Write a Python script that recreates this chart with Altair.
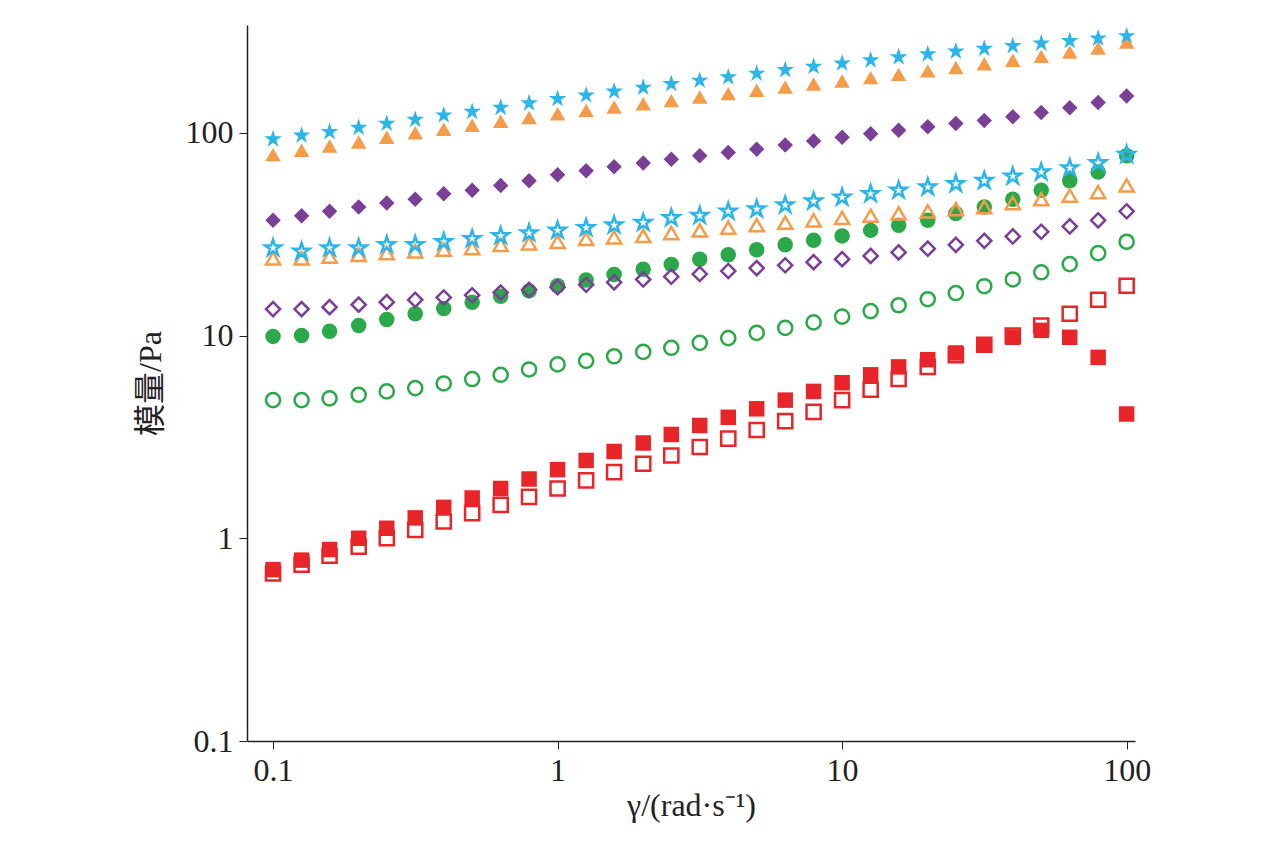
import altair as alt
import pandas as pd

x = [0.1, 0.126, 0.158, 0.2, 0.251, 0.316, 0.398, 0.501, 0.631, 0.794,
     1, 1.26, 1.58, 2, 2.51, 3.16, 3.98, 5.01, 6.31, 7.94,
     10, 12.6, 15.8, 20, 25.1, 31.6, 39.8, 50.1, 63.1, 79.4, 100]

filled = {
    "0": [0.7, 0.78, 0.88, 1.0, 1.12, 1.26, 1.42, 1.58, 1.76, 1.96, 2.18, 2.42, 2.68, 2.95, 3.25, 3.6,
          3.95, 4.35, 4.8, 5.3, 5.85, 6.4, 7.0, 7.6, 8.2, 9.0, 9.8, 10.6, 9.8, 7.8, 4.1],
    "0.15": [9.9, 10, 10.5, 11.2, 12, 12.8, 13.6, 14.6, 15.6, 16.6, 17.6, 18.8, 20, 21.2, 22.4, 23.8,
             25, 26.5, 28, 29.5, 31, 33, 35, 37, 40, 43, 47, 52, 58, 64, 77],
    "0.30": [37, 39, 41, 43, 45, 47, 50, 52, 55, 58, 62, 65, 68, 71, 74, 77,
             80, 83, 87, 91, 95, 99, 103, 107, 111, 115, 120, 126, 133, 141, 152],
    "0.45": [78, 82, 86, 90, 95, 100, 104, 109, 114, 119, 124, 129, 134, 139, 144, 150,
             156, 162, 168, 174, 180, 187, 194, 202, 210, 219, 228, 238, 250, 262, 280],
    "0.60": [93, 97, 101, 106, 111, 116, 122, 127, 133, 140, 147, 153, 160, 167, 174, 181,
             188, 196, 204, 212, 220, 228, 236, 244, 252, 260, 268, 276, 284, 292, 300],
}
hollow = {
    "0": [0.67, 0.74, 0.82, 0.91, 1.0, 1.1, 1.21, 1.33, 1.46, 1.6, 1.76, 1.93, 2.12, 2.33, 2.56, 2.82,
          3.1, 3.42, 3.78, 4.2, 4.8, 5.4, 6.1, 7.0, 8.0, 9.0, 10.0, 11.2, 12.8, 15.0, 17.6],
    "0.15": [4.8, 4.8, 4.9, 5.1, 5.3, 5.5, 5.8, 6.1, 6.4, 6.8, 7.2, 7.5, 7.9, 8.3, 8.7, 9.2,
             9.7, 10.3, 10.9, 11.6, 12.4, 13.2, 14.1, 15.1, 16.2, 17.5, 18.9, 20.5, 22.5, 25.5, 29],
    "0.30": [13.5, 13.5, 13.8, 14.2, 14.6, 15, 15.4, 15.8, 16.3, 16.8, 17.3, 17.8, 18.3, 18.9, 19.5, 20.1,
             20.8, 21.5, 22.2, 23, 23.8, 24.7, 25.7, 26.8, 28, 29.3, 30.8, 32.5, 34.5, 37, 41],
    "0.45": [24, 24, 24.5, 25, 25.5, 26, 26.5, 27, 28, 28.5, 29, 30, 30.5, 31, 32, 33,
             34, 35, 36, 37, 38, 39, 40, 41, 42, 43, 45, 47, 49, 51, 55],
    "0.60": [27, 26, 27, 27, 28, 28, 29, 30, 31, 32, 33, 34, 35, 36, 38, 39,
             41, 42, 44, 46, 48, 50, 52, 54, 56, 58, 61, 64, 67, 71, 78],
}

groups = ["0", "0.15", "0.30", "0.45", "0.60"]
colors = ["#e8262a", "#2ba84a", "#7b3f98", "#f59c4a", "#2eb5e8"]
star = "M0,-1.2L0.27,-0.37L1.14,-0.37L0.43,0.14L0.71,0.97L0,0.46L-0.71,0.97L-0.43,0.14L-1.14,-0.37L-0.27,-0.37Z"
shapes = ["square", "circle", "diamond", "triangle-up", star]


def frame(d):
    rows = []
    for g in groups:
        for xi, yi in zip(x, d[g]):
            rows.append({"x": xi, "y": yi, "w": g})
    return pd.DataFrame(rows)


font = "Liberation Serif, Noto Sans CJK SC"
xs = alt.X("x:Q", title="γ/(rad·s⁻¹)",
           scale=alt.Scale(type="log", domain=[0.081, 107]),
           axis=alt.Axis(values=[0.1, 1, 10, 100], format="~g", grid=False))
ys = alt.Y("y:Q", title="模量/Pa",
           scale=alt.Scale(type="log", domain=[0.1, 340]),
           axis=alt.Axis(values=[0.1, 1, 10, 100], format="~g", grid=False))

leg = alt.Legend(title="w(SHP)/%", orient="none", legendX=195, legendY=598,
                 direction="horizontal", labelFontSize=32, titleFontSize=32,
                 titleFontWeight="normal", symbolSize=190, symbolStrokeWidth=2.5,
                 labelFont=font, titleFont=font, columnPadding=26, labelOffset=4,
                 titlePadding=8)
col = alt.Color("w:N", scale=alt.Scale(domain=groups, range=colors))
shp = alt.Shape("w:N", scale=alt.Scale(domain=groups, range=shapes))

full = alt.Chart(frame(filled)).mark_point(filled=True, size=240, opacity=1).encode(
    x=xs, y=ys, color=col.legend(None), shape=shp.legend(None)
)
empty = alt.Chart(frame(hollow)).mark_point(filled=False, size=200, strokeWidth=2.5, opacity=1).encode(
    x=xs, y=ys, color=col.legend(leg), shape=shp.legend(leg),
)

chart = alt.layer(full, empty).properties(
    width=888, height=716, autosize="none",
    padding={"left": 239, "top": 17, "right": 130, "bottom": 100},
).configure_axis(
    labelFont=font, titleFont=font, labelFontSize=32, titleFontSize=32,
    titleFontWeight="normal", labelColor="#222", titleColor="#222",
    domainColor="#222", tickColor="#222", tickSize=8, domainWidth=1.5,
    labelPadding=6,
).configure_view(stroke=None).configure_axisY(titlePadding=18)

chart.save("out.html", embed_options={"renderer": "svg", "actions": False})
